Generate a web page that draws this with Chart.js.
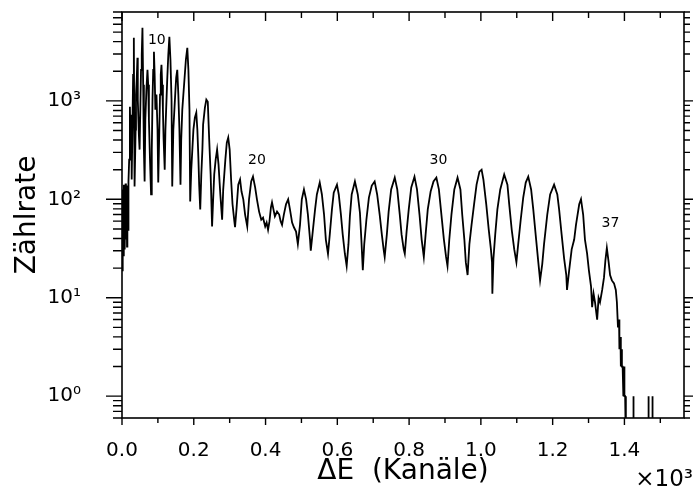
<!DOCTYPE html>
<html>
<head>
<meta charset="utf-8">
<script src="https://cdn.jsdelivr.net/npm/chart.js@4.4.1/dist/chart.umd.min.js"></script>
<style>
  html, body { margin: 0; padding: 0; background: #fff; }
  canvas { display: block; }
</style>
</head>
<body>
<canvas id="chart" width="693" height="498"></canvas>
<script>
// Spectrum: channel and counts (Zählrate), 0 = empty channel
const channels = [
    0, 2, 3, 5, 6, 7, 8, 10, 11, 13,
    14, 15, 17, 18, 20, 22, 24, 26, 27, 29,
    31, 33, 34, 35, 38, 39, 41, 43, 44, 47,
    49, 51, 53, 55, 57, 59, 61, 63, 65, 68,
    71, 73, 75, 78, 81, 83, 85, 87, 89, 91,
    93, 96, 99, 101, 104, 106, 108, 110, 112, 114,
    116, 119, 121, 124, 126, 129, 132, 135, 138, 140,
    143, 146, 149, 151, 154, 157, 160, 163, 165, 168,
    171, 174, 178, 182, 185, 188, 190, 193, 196, 199,
    203, 207, 210, 213, 215, 218, 221, 224, 226, 231,
    235, 239, 243, 247, 251, 254, 257, 261, 265, 269,
    274, 279, 282, 288, 292, 296, 300, 304, 308, 313,
    315, 319, 324, 329, 333, 338, 343, 349, 354, 360,
    365, 371, 376, 382, 388, 393, 399, 403, 407, 411,
    415, 418, 422, 426, 432, 438, 442, 446, 451, 457,
    463, 468, 474, 479, 485, 490, 496, 501, 507, 513,
    518, 524, 526, 532, 538, 543, 551, 557, 563, 568,
    574, 579, 585, 590, 599, 604, 610, 615, 621, 626,
    631, 635, 640, 649, 657, 663, 667, 671, 675, 681,
    688, 696, 704, 711, 718, 724, 729, 732, 738, 743,
    750, 760, 767, 774, 779, 785, 788, 793, 799, 806,
    815, 822, 829, 835, 841, 846, 852, 860, 868, 876,
    883, 890, 897, 903, 907, 912, 918, 926, 935, 943,
    948, 954, 958, 963, 968, 974, 981, 988, 996, 1002,
    1007, 1015, 1022, 1028, 1031, 1032, 1035, 1040, 1046, 1054,
    1065, 1074, 1079, 1086, 1093, 1099, 1104, 1111, 1118, 1125,
    1132, 1140, 1146, 1154, 1160, 1165, 1171, 1176, 1185, 1193,
    1204, 1213, 1218, 1225, 1232, 1238, 1240, 1246, 1253, 1260,
    1265, 1274, 1279, 1285, 1290, 1296, 1301, 1307, 1310, 1314,
    1318, 1324, 1328, 1332, 1338, 1343, 1347, 1351, 1356, 1360,
    1365, 1371, 1376, 1379, 1382, 1385, 1386, 1389, 1390, 1392,
    1393, 1395, 1397, 1399, 1400, 1402, 1404, 1424, 1424, 1426,
    1426, 1466, 1466, 1468, 1468, 1477, 1477, 1479, 1479, 1566
];
const counts = [
    19, 126, 27, 141, 35, 126, 31, 145, 39, 126,
    33, 138, 49, 152, 253, 873, 320, 725, 159, 510,
    1840, 4380, 645, 135, 510, 1160, 1640, 2740, 1030, 454,
    320, 815, 2070, 2940, 5520, 1460, 320, 152, 645, 1300,
    2070, 1460, 645, 253, 112, 320, 1030, 2070, 3160, 1840,
    815, 1160, 510, 148, 510, 1160, 1840, 2330, 1460, 815,
    404, 200, 510, 1030, 1640, 2940, 4480, 2620, 1030, 135,
    510, 815, 1300, 1720, 2070, 1160, 510, 141, 404, 815,
    1160, 1640, 2620, 3460, 2070, 815, 95, 200, 320, 510,
    676, 759, 510, 253, 141, 79, 179, 320, 574, 853,
    1030, 980, 404, 179, 53, 100, 179, 253, 320, 225,
    112, 62, 126, 253, 377, 424, 320, 159, 89, 60,
    52, 79, 141, 159, 120, 100, 70, 53, 100, 152,
    170, 132, 100, 75, 62, 65, 53, 58, 49, 60,
    83, 93, 79, 67, 75, 70, 60, 55, 70, 89,
    100, 79, 58, 52, 47, 35, 55, 100, 126, 100,
    70, 39, 30, 49, 79, 112, 148, 112, 70, 39,
    28, 44, 79, 117, 141, 112, 70, 44, 28, 21,
    35, 67, 112, 152, 112, 73, 39, 19, 35, 62,
    104, 138, 152, 112, 70, 44, 31, 26, 44, 75,
    126, 166, 126, 70, 44, 31, 28, 47, 79, 132,
    170, 126, 70, 39, 26, 44, 79, 120, 152, 166,
    126, 70, 39, 26, 21, 39, 70, 126, 166, 126,
    70, 39, 23, 17, 35, 55, 89, 141, 191, 200,
    159, 89, 49, 31, 23, 11, 25, 44, 79, 126,
    179, 141, 89, 49, 31, 23, 35, 62, 104, 148,
    170, 126, 79, 39, 23, 15, 22, 35, 70, 112,
    141, 112, 79, 44, 25, 17, 12, 19, 31, 39,
    55, 89, 100, 70, 39, 28, 19, 13, 8, 11,
    9, 6, 10, 9, 12, 16, 24, 32, 23, 17,
    15, 14, 12, 9, 5, 6, 3, 4, 2, 3,
    2, 2, 1, 2, 1, 1, 0, 0, 1, 1,
    0, 0, 1, 1, 0, 0, 1, 1, 0, 0
];

// Peak numbers written above the spectrum
const peakLabels = ['10', '20', '30', '37'];
const peakLabelChannels = [97, 376, 882, 1361];
const peakLabelCounts = [4080, 250, 250, 57];

const xTicks = [0, 200, 400, 600, 800, 1000, 1200, 1400];
const yTicks = [1, 10, 100, 1000];
const yTickLabels = ['10⁰', '10¹', '10²', '10³'];

const Y_MIN = 0.6;
const Y_MAX = 8000;

Chart.defaults.font.family = "'DejaVu Sans', sans-serif";
Chart.defaults.color = '#000';

// Frame, inner/outer tick marks, peak numbers and the x10^3 factor
const frame = {
    id: 'frame',
    afterDraw(chart) {
        const { ctx, chartArea: a } = chart;
        const x = chart.scales.x;
        const y = chart.scales.y;
        ctx.save();
        ctx.strokeStyle = '#000';
        ctx.lineWidth = 1.6;
        ctx.strokeRect(a.left, a.top, a.right - a.left, a.bottom - a.top);

        ctx.lineWidth = 1.4;
        ctx.beginPath();
        for (let v = 0; v <= x.max; v += 100) {
            const px = x.getPixelForValue(v);
            const major = v % 200 === 0;
            ctx.moveTo(px, a.bottom);
            ctx.lineTo(px, a.bottom + (major ? 7 : 5));
            ctx.moveTo(px, a.top);
            ctx.lineTo(px, a.top + (major ? 9 : 6));
        }
        for (let e = -1; e <= 3; e++) {
            for (let k = 1; k <= 9; k++) {
                const v = k * Math.pow(10, e);
                if (v < y.min || v > y.max) continue;
                const py = y.getPixelForValue(v);
                ctx.moveTo(a.left, py);
                ctx.lineTo(a.left - (k === 1 ? 16 : 9), py);
                ctx.moveTo(a.right, py);
                ctx.lineTo(a.right + (k === 1 ? 9 : 6), py);
            }
        }
        ctx.stroke();

        ctx.fillStyle = '#000';
        ctx.textAlign = 'center';
        ctx.textBaseline = 'middle';
        ctx.font = "14px 'DejaVu Sans'";
        peakLabels.forEach((t, i) => {
            ctx.fillText(t, x.getPixelForValue(peakLabelChannels[i]), y.getPixelForValue(peakLabelCounts[i]));
        });

        ctx.textAlign = 'right';
        ctx.textBaseline = 'alphabetic';
        ctx.font = "23px 'DejaVu Sans'";
        ctx.fillText('×10³', chart.width, 486);
        ctx.restore();
    },
};

new Chart(document.getElementById('chart'), {
    type: 'line',
    data: {
        datasets: [{
            // empty channels go below the axis floor so the line drops out of the frame
            data: channels.map((c, i) => ({ x: c, y: counts[i] > 0 ? counts[i] : Y_MIN / 2 })),
            borderColor: '#000',
            borderWidth: 1.8,
            pointRadius: 0,
            tension: 0,
            fill: false,
        }],
    },
    options: {
        responsive: false,
        animation: false,
        events: [],
        layout: { padding: { top: 12, right: 9, left: 0, bottom: 0 } },
        plugins: { legend: { display: false }, tooltip: { enabled: false } },
        scales: {
            x: {
                type: 'linear',
                min: 0,
                max: 1566,
                grid: { display: false },
                border: { display: false },
                afterBuildTicks: (s) => { s.ticks = xTicks.map((value) => ({ value })); },
                afterFit: (s) => {
                    s.height = 80;
                    s.paddingLeft = 0;
                    s.paddingRight = 0;
                },
                ticks: {
                    padding: 13,
                    maxRotation: 0,
                    font: { size: 20 },
                    callback: (v) => (v / 1000).toFixed(1),
                },
                title: {
                    display: true,
                    text: 'ΔE  (Kanäle)',
                    font: { size: 28 },
                    padding: { top: 0, bottom: 9 },
                },
            },
            y: {
                type: 'logarithmic',
                min: Y_MIN,
                max: Y_MAX,
                grid: { display: false },
                border: { display: false },
                afterBuildTicks: (s) => { s.ticks = yTicks.map((value) => ({ value })); },
                afterFit: (s) => {
                    s.width = 122;
                    s.paddingTop = 0;
                    s.paddingBottom = 0;
                },
                ticks: {
                    padding: 33,
                    font: { size: 20 },
                    callback: (v) => yTickLabels[yTicks.indexOf(v)],
                },
                title: {
                    display: true,
                    text: 'Zählrate',
                    font: { size: 28 },
                    padding: { top: 11, bottom: 0 },
                },
            },
        },
    },
    plugins: [frame],
});
</script>
</body>
</html>
